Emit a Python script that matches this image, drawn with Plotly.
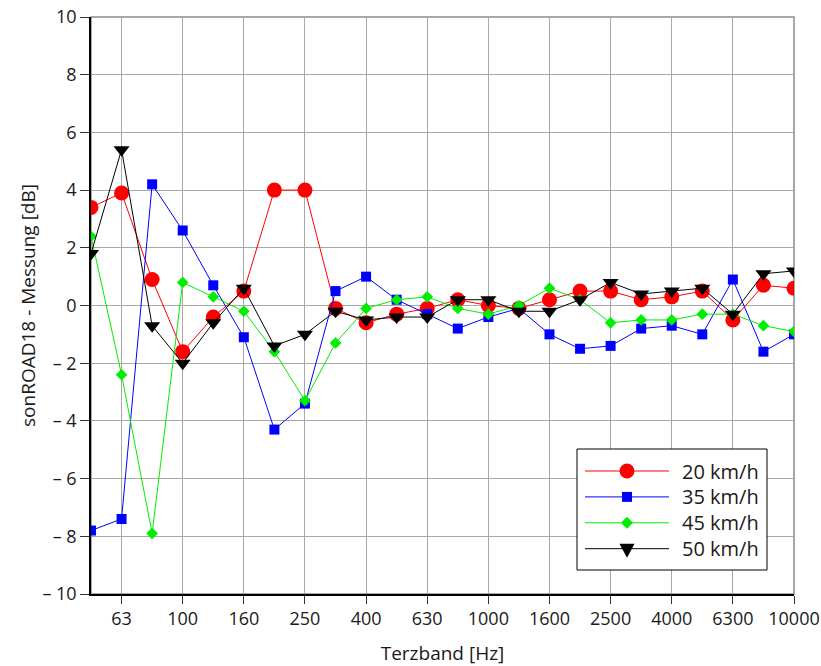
import plotly.graph_objects as go

bands = ["50", "63", "80", "100", "125", "160", "200", "250", "315", "400", "500", "630",
         "800", "1000", "1250", "1600", "2000", "2500", "3150", "4000", "5000", "6300", "8000", "10000"]

v20 = [3.4, 3.9, 0.9, -1.6, -0.4, 0.5, 4.0, 4.0, -0.1, -0.6, -0.3, -0.1,
       0.2, 0.0, -0.1, 0.2, 0.5, 0.5, 0.2, 0.3, 0.5, -0.5, 0.7, 0.6]
v35 = [-7.8, -7.4, 4.2, 2.6, 0.7, -1.1, -4.3, -3.4, 0.5, 1.0, 0.2, -0.3,
       -0.8, -0.4, -0.1, -1.0, -1.5, -1.4, -0.8, -0.7, -1.0, 0.9, -1.6, -1.0]
v45 = [2.4, -2.4, -7.9, 0.8, 0.3, -0.2, -1.6, -3.3, -1.3, -0.1, 0.2, 0.3,
       -0.1, -0.3, 0.0, 0.6, 0.2, -0.6, -0.5, -0.5, -0.3, -0.3, -0.7, -0.9]
v50 = [1.8, 5.4, -0.7, -2.0, -0.6, 0.6, -1.4, -1.0, -0.2, -0.5, -0.4, -0.4,
       0.2, 0.2, -0.2, -0.2, 0.2, 0.8, 0.4, 0.5, 0.6, -0.3, 1.1, 1.2]

series_names = ["20 km/h", "35 km/h", "45 km/h", "50 km/h"]
series_vals = [v20, v35, v45, v50]
colors = ["#ff0000", "#0000ff", "#00ee00", "#000000"]
symbols = ["circle", "square", "diamond", "triangle-down"]
sizes = [15, 10, 9, 14]

x_ticks = bands[1::2]
y_tickvals = list(range(-10, 11, 2))
y_ticktext = [("\u2013 " + str(-v)) if v < 0 else str(v) for v in y_tickvals]

FONT = "Open Sans, Noto Sans, sans-serif"
W, H = 821, 666
ML, MR, MT, MB = 91, 27, 17, 72
PW, PH = W - ML - MR, H - MT - MB


def px(x):
    return (x - ML) / PW


def py(y):
    return (H - MB - y) / PH


fig = go.Figure()
for name, vals, c, s, sz in zip(series_names, series_vals, colors, symbols, sizes):
    fig.add_trace(go.Scatter(
        x=bands, y=vals, name=name, mode="lines+markers",
        line=dict(color=c, width=1),
        marker=dict(color=c, symbol=s, size=sz, line=dict(width=0)),
        showlegend=False,
    ))

# ---- manual legend (layout decoration) ----
shapes = [dict(type="rect", xref="paper", yref="paper", x0=0, x1=1, y0=0, y1=1,
               line=dict(color="#8c8c8c", width=1.5), layer="below")]
annotations = []
box_l, box_r, box_t, box_b = 577, 767, 449, 570
shapes.append(dict(type="rect", xref="paper", yref="paper",
                   x0=px(box_l), x1=px(box_r), y0=py(box_b), y1=py(box_t),
                   line=dict(color="black", width=1), fillcolor="white", layer="above"))
row0, row_gap = 471, 25.9
line_l, line_r, mk = 585, 669, 627
for i, (name, c, s) in enumerate(zip(series_names, colors, symbols)):
    yy = row0 + row_gap * i
    shapes.append(dict(type="line", xref="paper", yref="paper",
                       x0=px(line_l), x1=px(line_r), y0=py(yy), y1=py(yy),
                       line=dict(color=c, width=1), layer="above"))
    if s == "circle":
        r = 7.5
        shapes.append(dict(type="circle", xref="paper", yref="paper",
                           x0=px(mk - r), x1=px(mk + r), y0=py(yy + r), y1=py(yy - r),
                           fillcolor=c, line=dict(width=0), layer="above"))
    elif s == "square":
        r = 5
        shapes.append(dict(type="rect", xref="paper", yref="paper",
                           x0=px(mk - r), x1=px(mk + r), y0=py(yy + r), y1=py(yy - r),
                           fillcolor=c, line=dict(width=0), layer="above"))
    elif s == "diamond":
        r = 6
        path = "M {} {} L {} {} L {} {} L {} {} Z".format(
            px(mk - r), py(yy), px(mk), py(yy - r), px(mk + r), py(yy), px(mk), py(yy + r))
        shapes.append(dict(type="path", xref="paper", yref="paper", path=path,
                           fillcolor=c, line=dict(width=0), layer="above"))
    else:
        hw, up, dn = 7.5, 5, 9
        path = "M {} {} L {} {} L {} {} Z".format(
            px(mk - hw), py(yy - up), px(mk + hw), py(yy - up), px(mk), py(yy + dn))
        shapes.append(dict(type="path", xref="paper", yref="paper", path=path,
                           fillcolor=c, line=dict(width=0), layer="above"))
    annotations.append(dict(xref="paper", yref="paper", x=px(680), y=py(yy),
                            xanchor="left", yanchor="middle", showarrow=False,
                            text=name, font=dict(size=20, family=FONT, color="#1a1a1a")))

fig.update_layout(
    width=W, height=H,
    margin=dict(l=ML, r=MR, t=MT, b=MB),
    paper_bgcolor="white", plot_bgcolor="white",
    font=dict(family=FONT, size=18, color="#1a1a1a"),
    showlegend=False,
    shapes=shapes,
    annotations=annotations,
)

fig.update_xaxes(
    type="category", categoryorder="array", categoryarray=bands,
    range=[0, len(bands) - 1], automargin=False,
    tickmode="array", tickvals=x_ticks, ticktext=x_ticks,
    showgrid=True, gridcolor="#a8a8a8", gridwidth=1,
    showline=True, linecolor="black", linewidth=1.5,
    ticks="outside", ticklen=8, tickcolor="#333", tickwidth=1,
    tickfont=dict(size=18),
    title=dict(text="Terzband [Hz]", font=dict(size=19), standoff=21),
    zeroline=False,
)
fig.update_yaxes(
    range=[-10, 10], automargin=False,
    tickmode="array", tickvals=y_tickvals, ticktext=y_ticktext,
    showgrid=True, gridcolor="#a8a8a8", gridwidth=1,
    showline=True, linecolor="black", linewidth=1.5,
    ticks="outside", ticklen=9, tickcolor="#333", tickwidth=1,
    tickfont=dict(size=18),
    title=dict(text="sonROAD18 - Messung [dB]", font=dict(size=19), standoff=2),
    zeroline=False,
)

fig.write_html("out.html")
